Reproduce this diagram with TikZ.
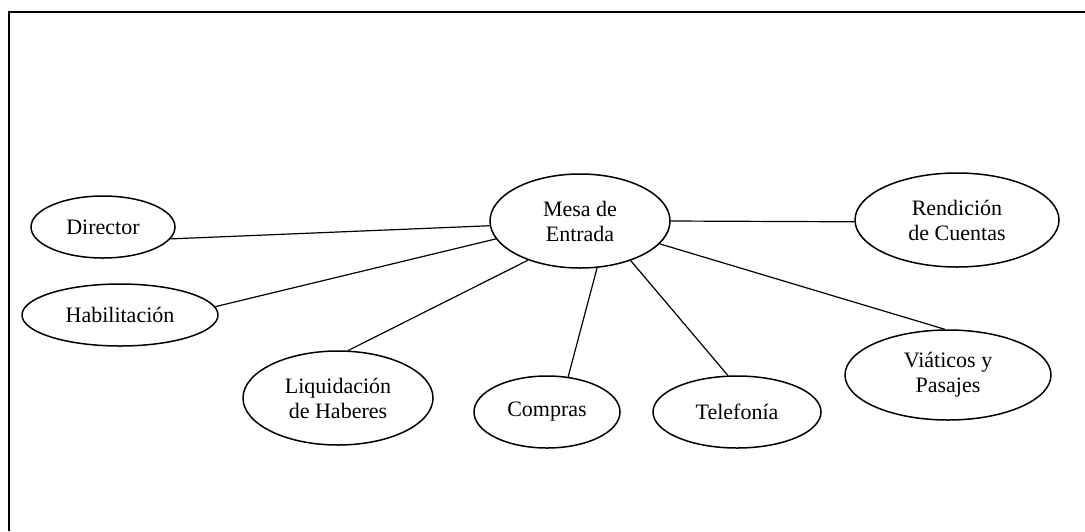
\documentclass[tikz,border=0pt]{standalone}
\usepackage{fontspec}
\setmainfont{Liberation Serif}
\usepackage{tikz}
\usetikzlibrary{shapes.geometric}

\begin{document}
\begin{tikzpicture}[x=0.5pt, y=-0.5pt,
  every node/.style={font=\fontsize{11}{12.5}\selectfont},
  area/.style={ellipse, draw, line width=0.75pt, inner sep=0pt, align=center},
  link/.style={line width=0.6pt}]
\useasboundingbox (0,0) rectangle (1085,531);
% Frame
\draw[line width=1pt] (9,531) -- (9,12) -- (1085,12);
% Areas
\node[area, minimum width=90pt, minimum height=47pt] (mesa) at (580,221) {Mesa de\\Entrada};
\node[area, minimum width=72pt, minimum height=31pt] (director) at (103,227) {Director};
\node[area, minimum width=98pt, minimum height=31pt] (habil) at (120,315) {Habilitación};
\node[area, minimum width=95pt, minimum height=47pt] (liquid) at (338,398) {Liquidación\\de Haberes};
\node[area, minimum width=73pt, minimum height=36pt] (compras) at (547,412) {Compras};
\node[area, minimum width=84pt, minimum height=36pt] (telef) at (737,412) {Telefonía};
\node[area, minimum width=103pt, minimum height=45pt] (viaticos) at (948,375) {Viáticos y\\Pasajes};
\node[area, minimum width=102pt, minimum height=47pt] (rendic) at (957,220) {Rendición\\de Cuentas};
% Links
\draw[link] (director.-10) -- (mesa.183);
\draw[link] (habil.5) -- (mesa.192);
\draw[link] (liquid.78) -- (mesa.217);
\draw[link] (compras.59) -- (mesa.-70);
\draw[link] (telef.104) -- (mesa.-38);
\draw[link] (viaticos.94) -- (mesa.-16);
\draw[link] (rendic.181) -- (mesa.0);
\end{tikzpicture}
\end{document}
